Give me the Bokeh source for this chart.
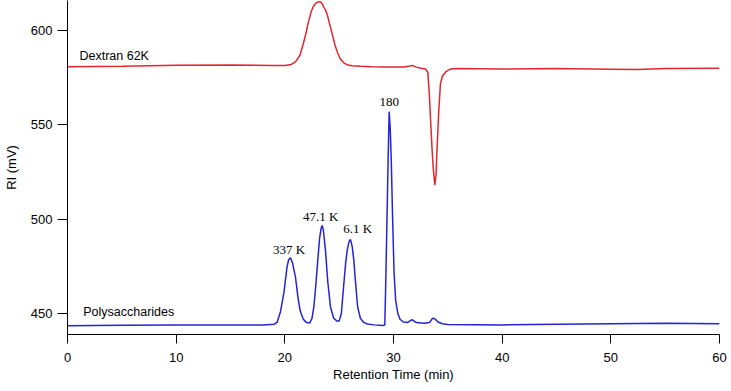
from bokeh.plotting import figure
from bokeh.models import Range1d, FixedTicker, Label
from bokeh.embed import file_html
from bokeh.resources import INLINE

# Dextran 62K trace (retention time in min, RI in mV)
dextran_t = [0, 5, 10, 15, 19, 20, 20.6, 21.0, 21.4, 21.7, 21.9, 22.15, 22.4, 22.6, 22.82,
             23.0, 23.22, 23.4, 23.6, 23.75, 23.9, 24.05, 24.2, 24.45, 24.67, 24.9, 25.1,
             25.4, 25.7, 26.2, 27, 28, 29, 30, 31.0, 31.4, 31.72, 32.1, 32.5, 32.95, 33.16,
             33.3, 33.4, 33.55, 33.65, 33.8, 33.92, 34.0, 34.1, 34.17, 34.32, 34.5, 34.78,
             35.1, 35.4, 36, 40, 45, 50, 52.4, 55, 60]
dextran_v = [580.8, 581.0, 581.6, 581.7, 581.5, 581.5, 582.0, 583.5, 587.0, 593.0, 597.5,
             604.0, 609.5, 612.5, 614.3, 615.0, 615.4, 614.5, 612.3, 610.8, 608.5, 605.0,
             601.8, 596.0, 591.2, 587.5, 585.0, 583.0, 581.9, 581.3, 581.0, 580.8, 580.7,
             580.6, 580.6, 581.0, 581.5, 580.6, 580.0, 579.6, 577.8, 566.0, 554.0, 537.0,
             527.6, 518.0, 524.0, 536.4, 549.0, 557.6, 571.8, 575.8, 577.9, 579.2, 579.7,
             579.8, 579.6, 579.8, 579.5, 579.3, 579.9, 580.0]

# Polysaccharide standards trace
poly_t = [0, 5, 10, 15, 18, 19.0, 19.3, 19.6, 19.9, 20.2, 20.35, 20.52, 20.7, 20.98, 21.2,
          21.4, 21.7, 22.0, 22.3, 22.5, 22.67, 22.85, 23.03, 23.2, 23.35, 23.44, 23.55,
          23.74, 23.95, 24.2, 24.5, 24.8, 25.0, 25.2, 25.43, 25.6, 25.74, 25.9, 26.04,
          26.2, 26.35, 26.5, 26.7, 26.95, 27.26, 27.6, 28.2, 29.0, 29.2, 29.3, 29.4, 29.5,
          29.6, 29.7, 29.8, 29.92, 30.05, 30.2, 30.4, 30.6, 30.9, 31.3, 31.7, 32.1, 32.8,
          33.3, 33.6, 33.8, 34.1, 34.5, 35, 40, 45, 50, 55, 60]
poly_v = [443.6, 443.8, 443.9, 443.9, 444.0, 444.3, 445.5, 451.0, 460.5, 474.6, 478.5,
          479.6, 477.0, 469.3, 459.0, 451.7, 447.0, 445.2, 445.0, 447.5, 453.5, 465.0,
          478.2, 490.0, 495.5, 496.7, 494.0, 483.5, 467.0, 453.5, 447.5, 446.0, 446.0,
          450.0, 465.8, 477.0, 483.5, 488.0, 489.3, 485.5, 478.2, 467.0, 453.5, 447.5,
          445.3, 444.5, 444.0, 443.7, 443.9, 470.0, 500.0, 530.0, 557.0, 548.0, 530.0,
          500.0, 472.0, 457.0, 450.0, 447.0, 445.5, 445.3, 446.8, 445.2, 444.8, 445.2,
          447.5, 447.3, 445.5, 444.6, 444.2, 444.0, 444.3, 444.6, 444.8, 444.6]

# Peak annotations
peak_labels = ["337 K", "47.1 K", "6.1 K", "180"]
peak_x = [20.4, 23.3, 26.7, 29.6]
peak_y = [484.0, 501.5, 495.0, 562.0]

trace_names = ["Dextran 62K", "Polysaccharides"]
trace_label_x = [1.1, 1.45]
trace_label_y = [586.7, 451.0]

x_ticks = [0, 10, 20, 30, 40, 50, 60]
y_ticks = [450, 500, 550, 600]

p = figure(width=731, height=391, output_backend="svg", toolbar_location=None,
           x_range=Range1d(0, 60), y_range=Range1d(438.9, 615.9),
           min_border_left=67, min_border_right=12, min_border_top=0, min_border_bottom=57)
p.outline_line_color = None
p.xgrid.visible = False
p.ygrid.visible = False
p.background_fill_color = "white"

p.line(dextran_t, dextran_v, line_color="#e0282c", line_width=1.5)
p.line(poly_t, poly_v, line_color="#2424d6", line_width=1.5)

for txt, x, y in zip(peak_labels, peak_x, peak_y):
    p.add_layout(Label(x=x, y=y, text=txt, text_font="Liberation Serif", text_font_size="13px",
                       text_align="center", text_baseline="middle", text_color="black"))

for txt, x, y in zip(trace_names, trace_label_x, trace_label_y):
    p.add_layout(Label(x=x, y=y, text=txt, text_font="Liberation Sans", text_font_size="12.5px",
                       text_align="left", text_baseline="middle", text_color="black"))

for ax in (p.xaxis[0], p.yaxis[0]):
    ax.axis_line_color = "black"
    ax.axis_line_width = 1
    ax.major_tick_line_color = "black"
    ax.major_tick_in = 0
    ax.minor_tick_line_color = None
    ax.major_label_text_font = "Liberation Sans"
    ax.major_label_text_font_size = "13px"
    ax.major_label_text_color = "black"
    ax.axis_label_text_font = "Liberation Sans"
    ax.axis_label_text_font_size = "13px"
    ax.axis_label_text_font_style = "normal"
    ax.axis_label_text_color = "black"

p.xaxis.major_tick_out = 9
p.yaxis.major_tick_out = 10
p.xaxis.ticker = FixedTicker(ticks=x_ticks)
p.yaxis.ticker = FixedTicker(ticks=y_ticks)
p.xaxis.axis_label = "Retention Time (min)"
p.yaxis.axis_label = "RI (mV)"
p.xaxis.major_label_standoff = 9
p.xaxis.axis_label_standoff = 2
p.yaxis.major_label_standoff = 5
p.yaxis.axis_label_standoff = 9

open("out.html", "w").write(file_html(p, INLINE))
